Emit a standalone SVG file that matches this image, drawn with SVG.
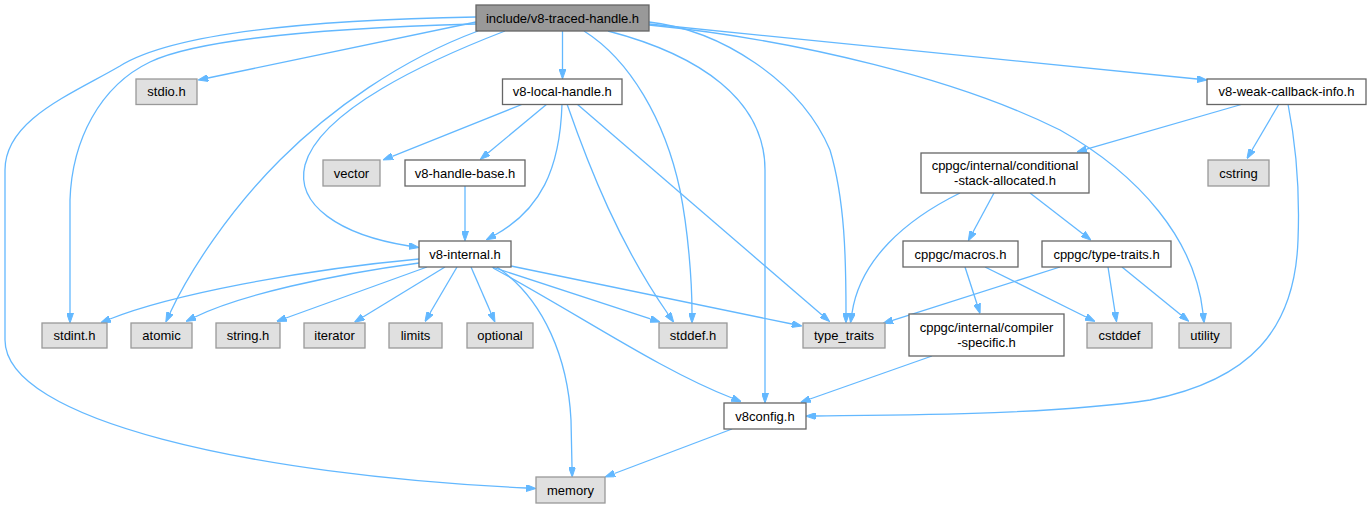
<svg xmlns="http://www.w3.org/2000/svg" width="1371" height="508" viewBox="0 0 1371 508">
<style>
.e{fill:none;stroke:#63b8ff;stroke-width:1.3;marker-end:url(#arr)}
.n rect{fill:#ffffff;stroke:#666666;stroke-width:1.3}
.g rect{fill:#e0e0e0;stroke:#999999;stroke-width:1.3}
.r rect{fill:#999999;stroke:#666666;stroke-width:1.3}
text{font-family:"Liberation Sans",Arial,Helvetica,sans-serif;font-size:13px;fill:#000000;text-anchor:middle}
</style>
<defs>
<marker id="arr" markerWidth="10" markerHeight="7" refX="0" refY="3.5" orient="auto" markerUnits="userSpaceOnUse">
<path d="M0,0 L10,3.5 L0,7 z" fill="#63b8ff" stroke="#63b8ff" stroke-width="1"/>
</marker>
</defs>
<rect width="1371" height="508" fill="#ffffff"/>
<g id="edges">
<path class="e" d="M476,22 L208,78"/>
<path class="e" d="M562.5,31 L562.5,69"/>
<path class="e" d="M505,31 C430,60 320,110 305,165 C295,205 340,235 409,246"/>
<path class="e" d="M476,24 C330,28 200,38 150,62 C100,86 72,140 70,200 L70,313"/>
<path class="e" d="M478,31 C400,60 330,110 280,160 C230,210 190,270 170,313"/>
<path class="e" d="M476,17 C300,20 170,35 120,66 C70,95 5,120 5,170 L5,340 C5,420 250,475 526,488"/>
<path class="e" d="M584,31 C630,60 665,120 680,190 C688,230 692,280 692,313"/>
<path class="e" d="M649,22 C720,30 800,80 830,150 C845,200 846,260 846,313"/>
<path class="e" d="M608,31 C700,55 765,100 765,170 L765,393"/>
<path class="e" d="M649,25 C800,40 960,80 1060,130 C1140,175 1195,240 1203,313"/>
<path class="e" d="M649,24 L1197,79"/>
<path class="e" d="M523,104 L392.3,156.3"/>
<path class="e" d="M547,104 L488,153"/>
<path class="e" d="M562,104 C560,170 540,210 495,235"/>
<path class="e" d="M567,104 C590,170 620,245 668,314"/>
<path class="e" d="M577,104 L822,315"/>
<path class="e" d="M465,186 L465,231"/>
<path class="e" d="M419,259 C300,270 170,295 110,319"/>
<path class="e" d="M419,263 C330,275 240,295 195,317"/>
<path class="e" d="M427,267 L286,318"/>
<path class="e" d="M445,267 L363,317"/>
<path class="e" d="M457,267 L430,313"/>
<path class="e" d="M471,267 L491,313"/>
<path class="e" d="M492,267 L650.5,318.9"/>
<path class="e" d="M511,266 L792,324"/>
<path class="e" d="M497,267 C545,300 568,360 571,420 L572,467"/>
<path class="e" d="M493,268 C580,315 660,370 732,398"/>
<path class="e" d="M1243,104 L1086.6,149.2"/>
<path class="e" d="M1279,104 L1252,150"/>
<path class="e" d="M1288,104 C1295,140 1300,190 1298,240 C1295,330 1250,380 1150,400 C1050,415 900,415 816,416"/>
<path class="e" d="M960,193 C905,220 860,260 852,313"/>
<path class="e" d="M994,193 L973,232"/>
<path class="e" d="M1030,193 L1083,234"/>
<path class="e" d="M965,267 L977,304"/>
<path class="e" d="M985,267 L1086,317"/>
<path class="e" d="M1060,267 L892.6,320.3"/>
<path class="e" d="M1108,267 L1115,312"/>
<path class="e" d="M1122,267 L1181,315"/>
<path class="e" d="M932,356 L810,399"/>
<path class="e" d="M732,429 L614.4,473.5"/>
</g>
<g id="root" class="r"><rect x="476" y="5" width="173" height="26"/><text x="562.5" y="22.6">include/v8-traced-handle.h</text></g>
<g id="stdio" class="g"><rect x="136" y="79" width="61" height="25.5"/><text x="166.5" y="96.3">stdio.h</text></g>
<g id="local" class="n"><rect x="502.5" y="79" width="119.5" height="25.5"/><text x="562.25" y="96.3">v8-local-handle.h</text></g>
<g id="weak" class="n"><rect x="1207" y="79" width="159" height="25.5"/><text x="1286.5" y="96.3">v8-weak-callback-info.h</text></g>
<g id="vector" class="g"><rect x="323" y="160" width="57" height="26"/><text x="351.5" y="177.6">vector</text></g>
<g id="handlebase" class="n"><rect x="405" y="160" width="120" height="26"/><text x="465" y="177.6">v8-handle-base.h</text></g>
<g id="condstack" class="n"><rect x="921" y="153" width="168" height="40"/><text x="1005" y="169.5">cppgc/internal/conditional</text><text x="1005" y="184.5">-stack-allocated.h</text></g>
<g id="cstring" class="g"><rect x="1208" y="160" width="61" height="26"/><text x="1238.5" y="177.6">cstring</text></g>
<g id="internal" class="n"><rect x="419" y="241" width="92" height="26"/><text x="465" y="258.6">v8-internal.h</text></g>
<g id="macros" class="n"><rect x="903" y="241" width="115" height="26"/><text x="960.5" y="258.6">cppgc/macros.h</text></g>
<g id="typetraitsh" class="n"><rect x="1042" y="241" width="129" height="26"/><text x="1106.5" y="258.6">cppgc/type-traits.h</text></g>
<g id="stdint" class="g"><rect x="42" y="323" width="65" height="25"/><text x="74.5" y="340.1">stdint.h</text></g>
<g id="atomic" class="g"><rect x="131" y="323" width="61" height="25"/><text x="161.5" y="340.1">atomic</text></g>
<g id="string" class="g"><rect x="216" y="323" width="64" height="25"/><text x="248" y="340.1">string.h</text></g>
<g id="iterator" class="g"><rect x="304" y="323" width="61" height="25"/><text x="334.5" y="340.1">iterator</text></g>
<g id="limits" class="g"><rect x="389" y="323" width="53" height="25"/><text x="415.5" y="340.1">limits</text></g>
<g id="optional" class="g"><rect x="467" y="323" width="66" height="25"/><text x="500" y="340.1">optional</text></g>
<g id="stddef" class="g"><rect x="659" y="323" width="68" height="25"/><text x="693" y="340.1">stddef.h</text></g>
<g id="type_traits" class="g"><rect x="803" y="323" width="82" height="25"/><text x="844" y="340.1">type_traits</text></g>
<g id="compiler" class="n"><rect x="909" y="314" width="155" height="42"/><text x="986.5" y="332">cppgc/internal/compiler</text><text x="986.5" y="347">-specific.h</text></g>
<g id="cstddef" class="g"><rect x="1087" y="323" width="65" height="25"/><text x="1119.5" y="340.1">cstddef</text></g>
<g id="utility" class="g"><rect x="1179" y="323" width="52" height="25"/><text x="1205" y="340.1">utility</text></g>
<g id="v8config" class="n"><rect x="724" y="403" width="82" height="26"/><text x="765" y="420.6">v8config.h</text></g>
<g id="memory" class="g"><rect x="536" y="477" width="69" height="26"/><text x="570.5" y="494.6">memory</text></g>
</svg>
